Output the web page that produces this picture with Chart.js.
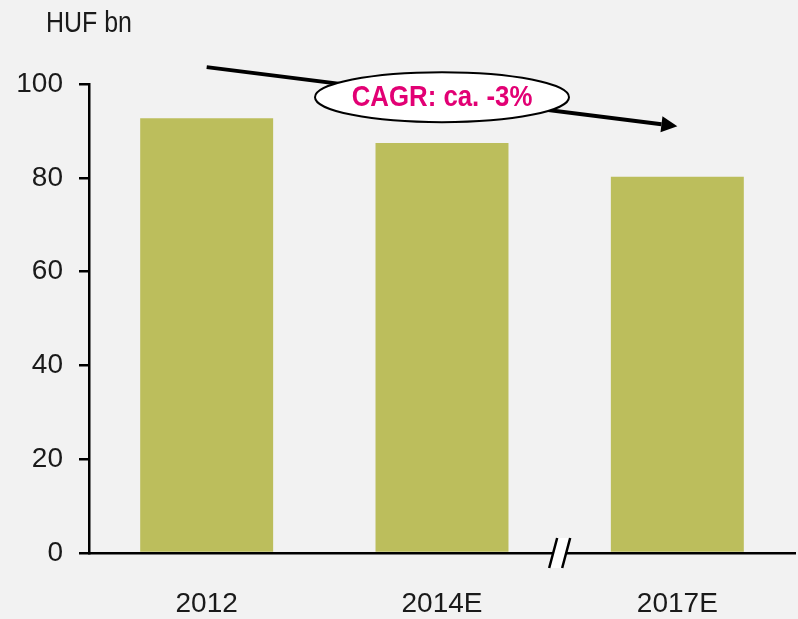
<!DOCTYPE html>
<html>
<head>
<meta charset="utf-8">
<script src="https://cdn.jsdelivr.net/npm/chart.js@4"></script>
<style>
  html, body { margin: 0; padding: 0; background: #f2f2f2; }
  #wrap { width: 798px; height: 619px; }
</style>
</head>
<body>
<div id="wrap"><canvas id="chart" width="798" height="619"></canvas></div>
<script>
// Chart data
const categories = ['2012', '2014E', '2017E'];
const revenue = [92.7, 87.4, 80.2];
const yTicks = [0, 20, 40, 60, 80, 100];
const unitLabel = 'HUF bn';
const cagrLabel = 'CAGR: ca. -3%';
// arrow runs from first to last category, in axis values
const arrowStart = [0, 103.6];
const arrowEnd = [2, 91.0];
const bubbleAt = [1, 97.2];

const FONT = '"Liberation Sans Narrow", "Liberation Sans", Arial, sans-serif';

// Draw text squeezed horizontally (the original uses a condensed face)
function narrowText(ctx, text, x, y, squeeze) {
    ctx.save();
    ctx.translate(x, y);
    ctx.scale(squeeze, 1);
    ctx.fillText(text, 0, 0);
    ctx.restore();
}

// Draws unit label, CAGR arrow with ellipse, and the axis break
const decorations = {
    id: 'decorations',
    afterDraw(chart) {
        const ctx = chart.ctx;
        const x = chart.scales.x;
        const y = chart.scales.y;

        ctx.save();

        // Unit label
        ctx.fillStyle = '#1a1a1a';
        ctx.font = '29px ' + FONT;
        ctx.textAlign = 'left';
        ctx.textBaseline = 'alphabetic';
        narrowText(ctx, unitLabel, 46, 32, 0.86);

        // Arrow
        const x1 = x.getPixelForValue(arrowStart[0]);
        const y1 = y.getPixelForValue(arrowStart[1]);
        const x2 = x.getPixelForValue(arrowEnd[0]);
        const y2 = y.getPixelForValue(arrowEnd[1]);
        const ang = Math.atan2(y2 - y1, x2 - x1);
        const headLen = 16, headW = 8;
        const bx = x2 - headLen * Math.cos(ang);
        const by = y2 - headLen * Math.sin(ang);
        ctx.strokeStyle = '#000';
        ctx.lineWidth = 4;
        ctx.beginPath();
        ctx.moveTo(x1, y1);
        ctx.lineTo(bx, by);
        ctx.stroke();
        ctx.fillStyle = '#000';
        ctx.beginPath();
        ctx.moveTo(x2, y2);
        ctx.lineTo(bx + headW * Math.sin(ang), by - headW * Math.cos(ang));
        ctx.lineTo(bx - headW * Math.sin(ang), by + headW * Math.cos(ang));
        ctx.closePath();
        ctx.fill();

        // CAGR bubble
        const cx = x.getPixelForValue(bubbleAt[0]);
        const cy = y.getPixelForValue(bubbleAt[1]);
        ctx.beginPath();
        ctx.ellipse(cx, cy, 127, 25, 0, 0, Math.PI * 2);
        ctx.fillStyle = '#ffffff';
        ctx.fill();
        ctx.lineWidth = 2;
        ctx.strokeStyle = '#000';
        ctx.stroke();
        ctx.fillStyle = '#e20074';
        ctx.font = 'bold 30px ' + FONT;
        ctx.textAlign = 'center';
        ctx.textBaseline = 'middle';
        narrowText(ctx, cagrLabel, cx, cy + 1, 0.86);

        // Axis break between 2014E and 2017E
        const mx = (x.getPixelForValue(1) + x.getPixelForValue(2)) / 2;
        const base = y.getPixelForValue(0);
        const h = 15, skew = 4, gap = 6.5;
        ctx.fillStyle = '#ffffff';
        ctx.beginPath();
        ctx.moveTo(mx - gap - skew, base + h);
        ctx.lineTo(mx - gap + skew, base - h);
        ctx.lineTo(mx + gap + skew, base - h);
        ctx.lineTo(mx + gap - skew, base + h);
        ctx.closePath();
        ctx.fill();
        ctx.strokeStyle = '#000';
        ctx.lineWidth = 2.5;
        ctx.beginPath();
        ctx.moveTo(mx - gap - skew, base + h);
        ctx.lineTo(mx - gap + skew, base - h);
        ctx.moveTo(mx + gap - skew, base + h);
        ctx.lineTo(mx + gap + skew, base - h);
        ctx.stroke();

        ctx.restore();
    }
};

new Chart(document.getElementById('chart'), {
    type: 'bar',
    data: {
        labels: categories,
        datasets: [{
            data: revenue,
            backgroundColor: '#bcbe5c',
            borderWidth: 0,
            barPercentage: 0.565,
            categoryPercentage: 1
        }]
    },
    options: {
        responsive: false,
        animation: false,
        layout: { padding: { top: 84, right: 3, left: 0, bottom: 0 } },
        plugins: {
            legend: { display: false },
            tooltip: { enabled: false }
        },
        scales: {
            x: {
                grid: { display: false, drawTicks: false },
                border: { color: '#000', width: 2.5 },
                ticks: {
                    color: '#1a1a1a',
                    font: { family: FONT, size: 28, lineHeight: 1 },
                    padding: 37,
                    maxRotation: 0
                },
                afterFit(scale) { scale.height = 66; }
            },
            y: {
                min: 0,
                max: 100,
                afterBuildTicks(scale) {
                    scale.ticks = yTicks.map(v => ({ value: v }));
                },
                grid: {
                    drawOnChartArea: false,
                    drawTicks: true,
                    tickLength: 10,
                    color: '#000',
                    lineWidth: 2.5
                },
                border: { color: '#000', width: 2.5 },
                ticks: {
                    color: '#1a1a1a',
                    font: { family: FONT, size: 28, lineHeight: 1 },
                    padding: 16
                },
                afterFit(scale) { scale.width = 89; }
            }
        }
    },
    plugins: [decorations]
});
</script>
</body>
</html>
